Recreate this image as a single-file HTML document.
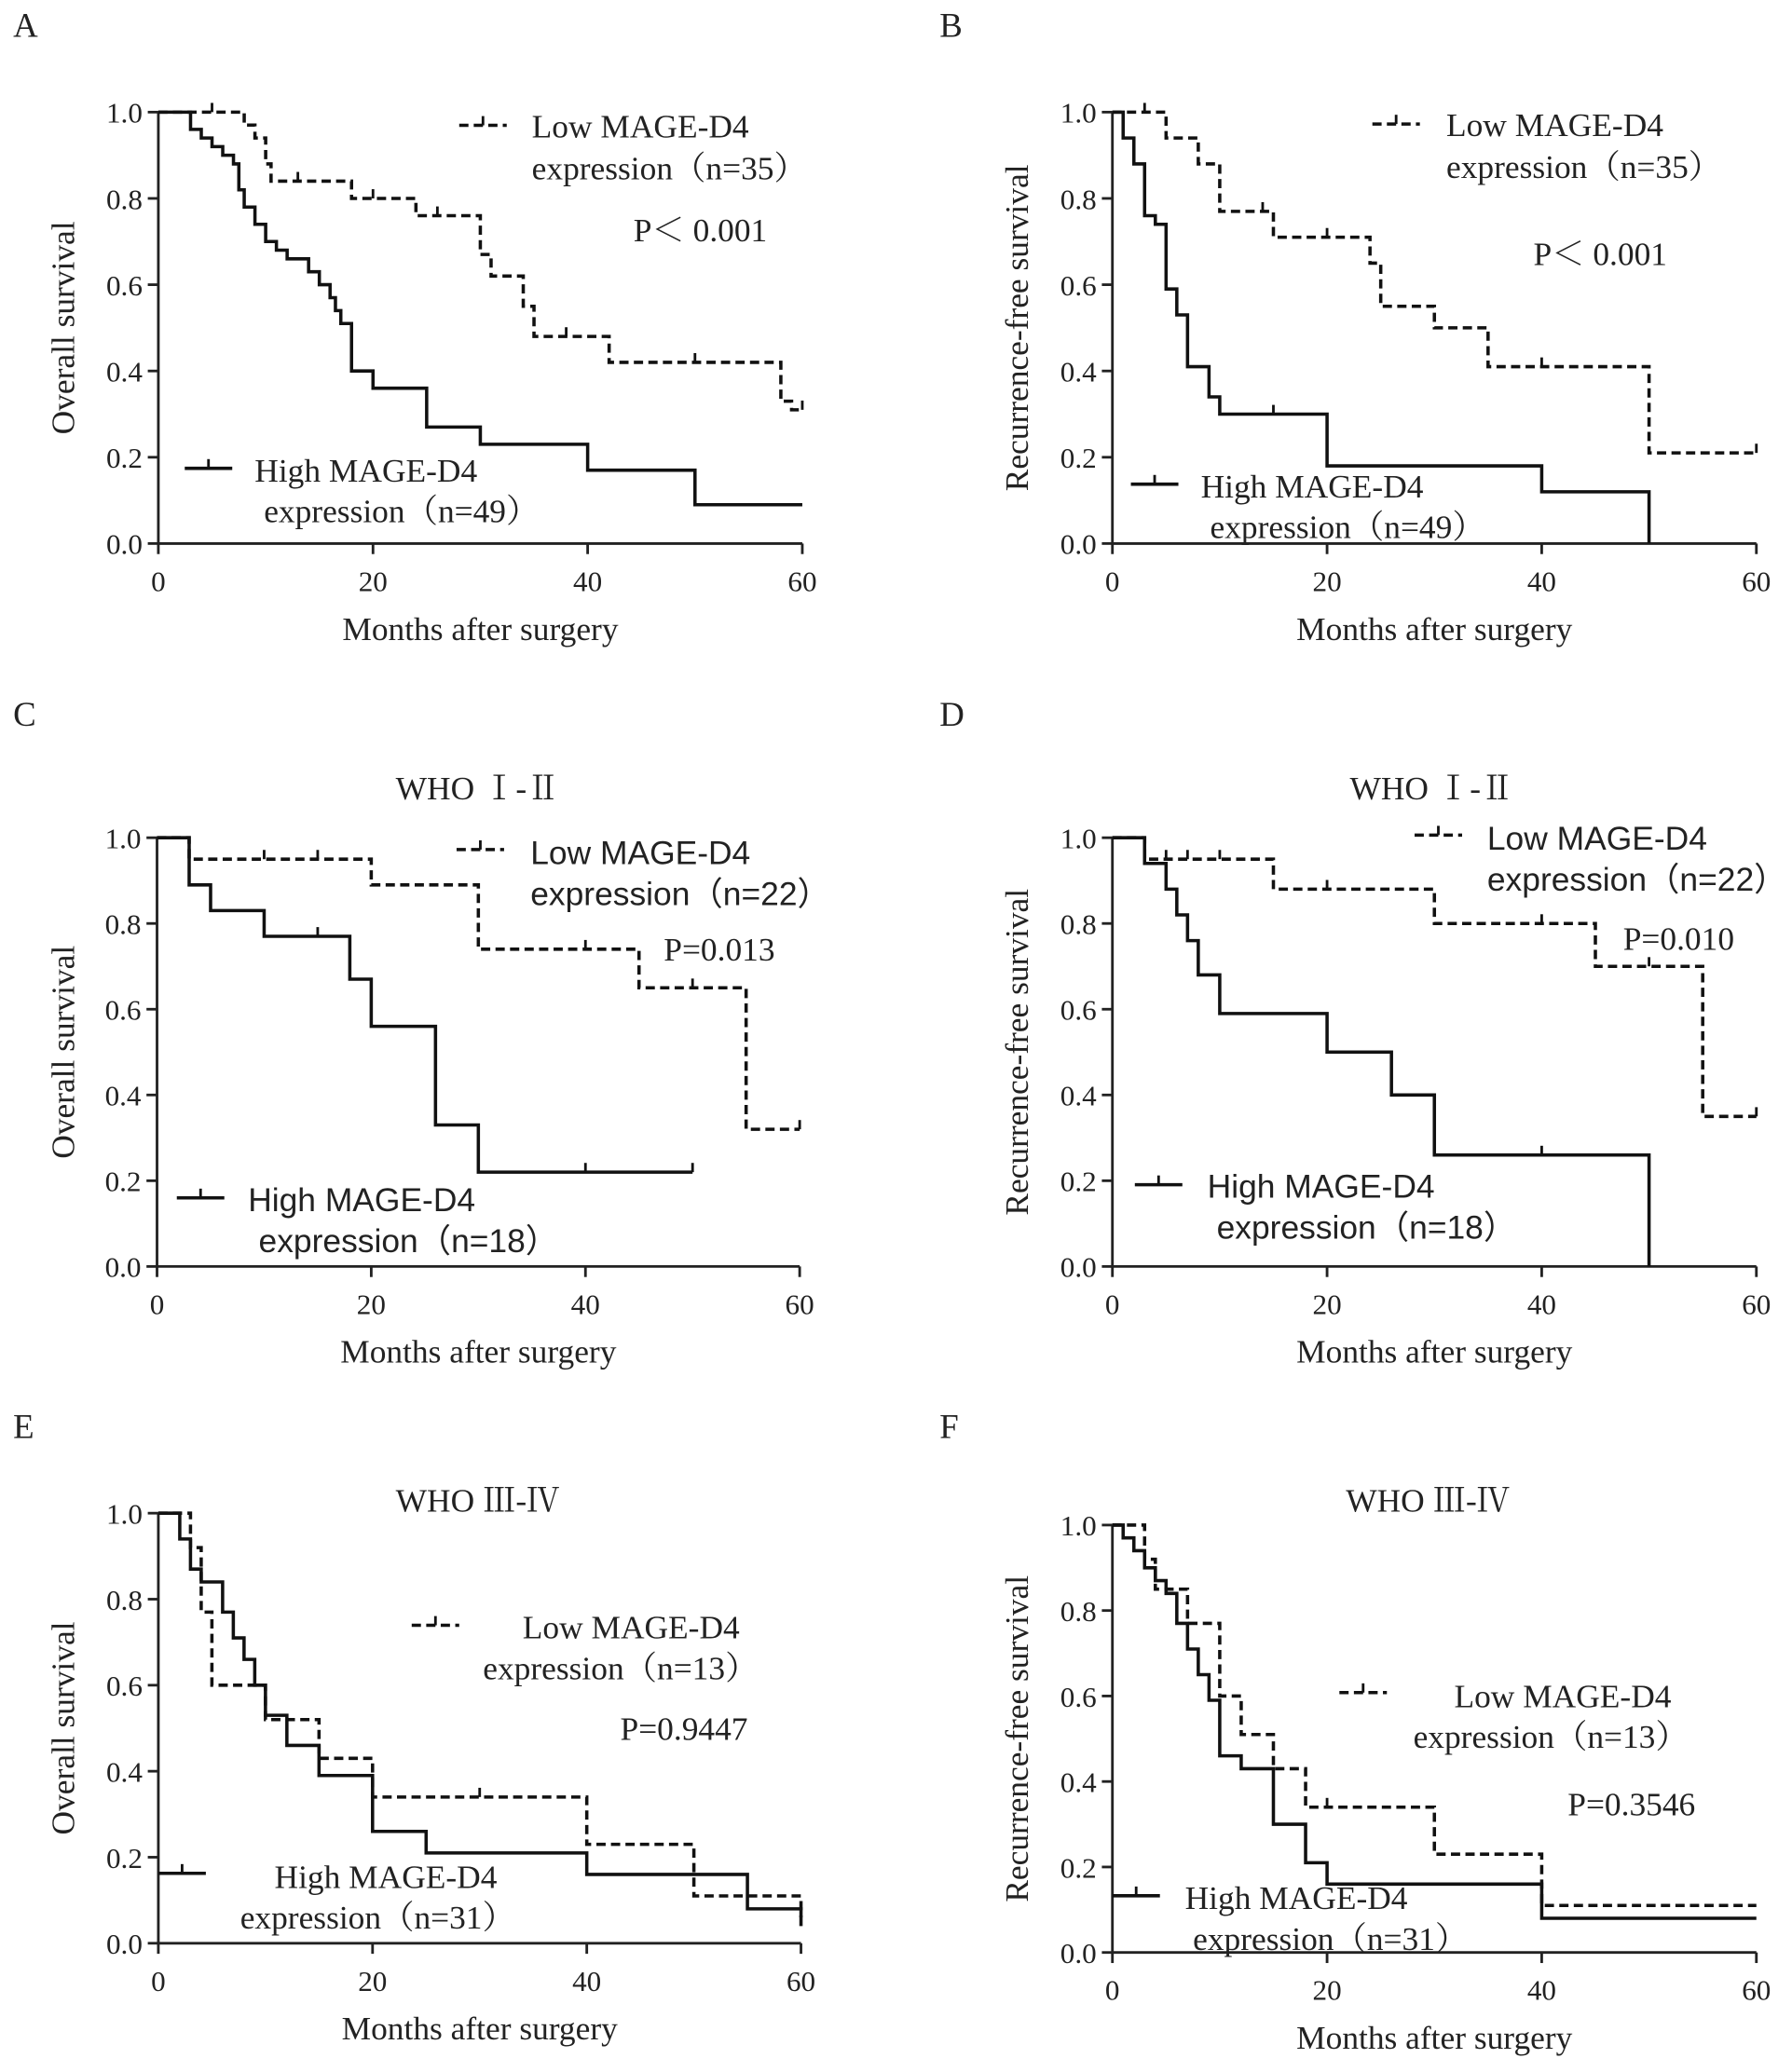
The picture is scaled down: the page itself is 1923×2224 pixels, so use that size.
<!DOCTYPE html>
<html><head><meta charset="utf-8"><style>
html,body{margin:0;padding:0;background:#fff;}
svg{display:block;}
text{font-family:"Liberation Serif","Noto Serif CJK SC",serif;fill:#222;}
.sans{font-family:"Liberation Sans","Noto Sans CJK SC",sans-serif;}
</style></head><body>
<svg id="fig" width="1923" height="2224" viewBox="0 0 1358 1570.6" preserveAspectRatio="none" xmlns="http://www.w3.org/2000/svg"></svg>
<script>
const xTicks=[0,20,40,60];
const yTicks=[0,0.2,0.4,0.6,0.8,1.0];
const yTickLabels=["0.0","0.2","0.4","0.6","0.8","1.0"];
// panel A
const aLow=[[0,1],[8,0.97],[9,0.94],[10,0.88],[10.5,0.84],[18,0.80],[24,0.76],[30,0.67],[31,0.62],[34,0.55],[35,0.48],[42,0.42],[58,0.33],[59,0.31],[60,0.31]];
const aLowCens=[[5,1],[13,0.84],[20,0.80],[26,0.76],[38,0.48],[50,0.42],[60,0.31]];
const aHigh=[[0,1],[3,0.96],[4,0.94],[5,0.92],[6,0.90],[7,0.88],[7.5,0.82],[8,0.78],[9,0.74],[10,0.70],[11,0.68],[12,0.66],[14,0.63],[15,0.60],[16,0.57],[16.5,0.54],[17,0.51],[18,0.40],[20,0.36],[25,0.27],[30,0.23],[40,0.17],[50,0.09],[60,0.09]];
const aHighCens=[];
// panel B
const bLow=[[0,1],[5,0.94],[8,0.88],[10,0.77],[15,0.71],[24,0.65],[25,0.55],[30,0.50],[35,0.41],[50,0.21],[60,0.21]];
const bLowCens=[[3,1],[14,0.77],[20,0.71],[40,0.41],[60,0.21]];
const bHigh=[[0,1],[1,0.94],[2,0.88],[3,0.76],[4,0.74],[5,0.59],[6,0.53],[7,0.41],[9,0.34],[10,0.30],[20,0.18],[40,0.12],[50,0]];
const bHighCens=[[15,0.30]];
// panel C
const cLow=[[0,1],[3,0.95],[20,0.89],[30,0.74],[45,0.65],[55,0.32],[60,0.32]];
const cLowCens=[[10,0.95],[15,0.95],[40,0.74],[50,0.65],[60,0.32]];
const cHigh=[[0,1],[3,0.89],[5,0.83],[10,0.77],[18,0.67],[20,0.56],[26,0.33],[30,0.22],[50,0.22]];
const cHighCens=[[15,0.77],[40,0.22],[50,0.22]];
// panel D
const dLow=[[0,1],[3,0.95],[15,0.88],[30,0.80],[45,0.70],[55,0.35],[60,0.35]];
const dLowCens=[[5,0.95],[7,0.95],[10,0.95],[20,0.88],[40,0.80],[50,0.70],[60,0.35]];
const dHigh=[[0,1],[3,0.94],[5,0.88],[6,0.82],[7,0.76],[8,0.68],[10,0.59],[20,0.50],[26,0.40],[30,0.26],[50,0]];
const dHighCens=[[40,0.26]];
// panel E
const eLow=[[0,1],[3,0.92],[4,0.77],[5,0.60],[10,0.52],[15,0.43],[20,0.34],[40,0.23],[50,0.11],[60,0.06]];
const eLowCens=[[30,0.34]];
const eHigh=[[0,1],[2,0.94],[3,0.87],[4,0.84],[6,0.77],[7,0.71],[8,0.66],[9,0.60],[10,0.53],[12,0.46],[15,0.39],[20,0.26],[25,0.21],[40,0.16],[55,0.08],[60,0.04]];
const eHighCens=[];
// panel F
const fLow=[[0,1],[3,0.92],[4,0.85],[7,0.77],[10,0.60],[12,0.51],[15,0.43],[18,0.34],[30,0.23],[40,0.11],[60,0.11]];
const fLowCens=[[20,0.34]];
const fHigh=[[0,1],[1,0.97],[2,0.94],[3,0.90],[4,0.87],[5,0.84],[6,0.77],[7,0.71],[8,0.65],[9,0.59],[10,0.46],[12,0.43],[15,0.30],[18,0.21],[20,0.16],[40,0.08],[60,0.08]];
const fHighCens=[];

const NS="http://www.w3.org/2000/svg";
const svg=document.getElementById('fig');
function mk(tag,attrs,parent){const e=document.createElementNS(NS,tag);for(const k in attrs)e.setAttribute(k,attrs[k]);(parent||svg).appendChild(e);return e;}
function txt(s,x,y,size,parent,anchor,cls){const t=mk('text',{x:x,y:y,'font-size':size,'text-anchor':anchor||'start'},parent);if(cls)t.setAttribute('class',cls);t.textContent=s;return t;}

const panels=[
 {id:'a',letter:'A',lx:10,ly:28,x0:120,y0:85,w:488,h:327,ylab:'Overall survival',ylx:50,title:null,low:aLow,lowC:aLowCens,high:aHigh,highC:aHighCens,
  lowLeg:[348,95,403,104,'Low MAGE-D4','expression（n=35）',403,136],highLeg:[140,355,193,365,'High MAGE-D4','expression（n=49）',200,396],p:['P＜ 0.001',480,183],sans:false},
 {id:'b',letter:'B',lx:712,ly:28,x0:843,y0:85,w:488,h:327,ylab:'Recurrence-free survival',ylx:773,title:null,low:bLow,lowC:bLowCens,high:bHigh,highC:bHighCens,
  lowLeg:[1040,94,1096,103,'Low MAGE-D4','expression（n=35）',1096,135],highLeg:[857,367,910,377,'High MAGE-D4','expression（n=49）',917,408],p:['P＜ 0.001',1162,201],sans:false},
 {id:'c',letter:'C',lx:10,ly:550,x0:119,y0:635,w:487,h:325,ylab:'Overall survival',ylx:50,title:['WHO  Ⅰ-Ⅱ',362,606],low:cLow,lowC:cLowCens,high:cHigh,highC:cHighCens,
  lowLeg:[346,644,402,655,'Low MAGE-D4','expression（n=22）',402,686],highLeg:[134,908,188,918,'High MAGE-D4','expression（n=18）',196,949],p:['P=0.013',503,728],sans:true},
 {id:'d',letter:'D',lx:712,ly:550,x0:843,y0:635,w:488,h:325,ylab:'Recurrence-free survival',ylx:773,title:['WHO  Ⅰ-Ⅱ',1085,606],low:dLow,lowC:dLowCens,high:dHigh,highC:dHighCens,
  lowLeg:[1072,633,1127,644,'Low MAGE-D4','expression（n=22）',1127,675],highLeg:[860,898,915,908,'High MAGE-D4','expression（n=18）',922,939],p:['P=0.010',1230,720],sans:true},
 {id:'e',letter:'E',lx:10,ly:1090,x0:120,y0:1147,w:487,h:326,ylab:'Overall survival',ylx:50,title:['WHO Ⅲ-Ⅳ',362,1146],low:eLow,lowC:eLowCens,high:eHigh,highC:eHighCens,
  lowLeg:[312,1232,396,1242,'Low MAGE-D4','expression（n=13）',366,1273],highLeg:[120,1420,208,1431,'High MAGE-D4','expression（n=31）',182,1462],p:['P=0.9447',470,1319],sans:false},
 {id:'f',letter:'F',lx:712,ly:1090,x0:843,y0:1156,w:488,h:324,ylab:'Recurrence-free survival',ylx:773,title:['WHO Ⅲ-Ⅳ',1082,1146],low:fLow,lowC:fLowCens,high:fHigh,highC:fHighCens,
  lowLeg:[1015,1283,1102,1294,'Low MAGE-D4','expression（n=13）',1071,1325],highLeg:[843,1437,898,1447,'High MAGE-D4','expression（n=31）',904,1478],p:['P=0.3546',1188,1376],sans:false}
];

panels.forEach(p=>{
  const g=mk('g',{});
  
  
  const X=t=>p.x0+t/60*p.w, Y=v=>p.y0+p.h-v*p.h;
  const L=txt(p.letter,p.lx,p.ly,26,g);
  
  
  if(p.title){const T=txt(p.title[0],p.title[1],p.title[2],25,g,'middle');
    
    }
  // axes
  const ax=mk('path',{d:`M${p.x0},${p.y0} V${p.y0+p.h} H${p.x0+p.w}`,stroke:'#222','stroke-width':2,fill:'none'},g);
  
  
  yTicks.forEach((v,i)=>{
    mk('line',{x1:p.x0-8,x2:p.x0,y1:Y(v),y2:Y(v),stroke:'#222','stroke-width':2},g);
    const t=txt(yTickLabels[i],p.x0-12,Y(v)+8,22,g,'end');
    
    
  });
  xTicks.forEach(v=>{
    mk('line',{x1:X(v),x2:X(v),y1:p.y0+p.h,y2:p.y0+p.h+8,stroke:'#222','stroke-width':2},g);
    const t=txt(String(v),X(v),p.y0+p.h+36,22,g,'middle');
    
    
  });
  const xl=txt('Months after surgery',p.x0+p.w/2,p.y0+p.h+73,25,g,'middle');
  
  
  const yl=txt(p.ylab,0,0,25,g,'middle');
  yl.setAttribute('transform',`translate(${p.ylx+6},${p.y0+p.h/2}) rotate(-90)`);
  
  
  // curves
  function curve(pts,cens,dash,name){
    let d=`M${X(pts[0][0])},${Y(pts[0][1])}`;
    for(let i=1;i<pts.length;i++){d+=` H${X(pts[i][0])} V${Y(pts[i][1])}`;}
    const c=mk('path',{d:d,stroke:'#111','stroke-width':2.5,fill:'none'},g);
    if(dash)c.setAttribute('stroke-dasharray','7,4');
    
    
    cens.forEach(cp=>{
      const m=mk('line',{x1:X(cp[0]),x2:X(cp[0]),y1:Y(cp[1])-7,y2:Y(cp[1]),stroke:'#111','stroke-width':2},g);
      
      
    });
  }
  curve(p.low,p.lowC,true,'low-expression-curve-'+p.id);
  curve(p.high,p.highC,false,'high-expression-curve-'+p.id);
  // legends
  function legend(l,dash,name){
    const lg=mk('g',{},g);
    
    
    const s=mk('line',{x1:l[0],x2:l[0]+36,y1:l[1],y2:l[1],stroke:'#111','stroke-width':2.5},lg);
    if(dash)s.setAttribute('stroke-dasharray','7,4');
    mk('line',{x1:l[0]+18,x2:l[0]+18,y1:l[1]-7,y2:l[1],stroke:'#111','stroke-width':2},lg);
    txt(l[4],l[2],l[3],25,lg,'start',p.sans?'sans':null);
    txt(l[5],l[6],l[7],25,lg,'start',p.sans?'sans':null);
  }
  legend(p.lowLeg,true,'legend-low-'+p.id);
  legend(p.highLeg,false,'legend-high-'+p.id);
  const pv=txt(p.p[0],p.p[1],p.p[2],25,g);
  
  
});
</script>
</body></html>
